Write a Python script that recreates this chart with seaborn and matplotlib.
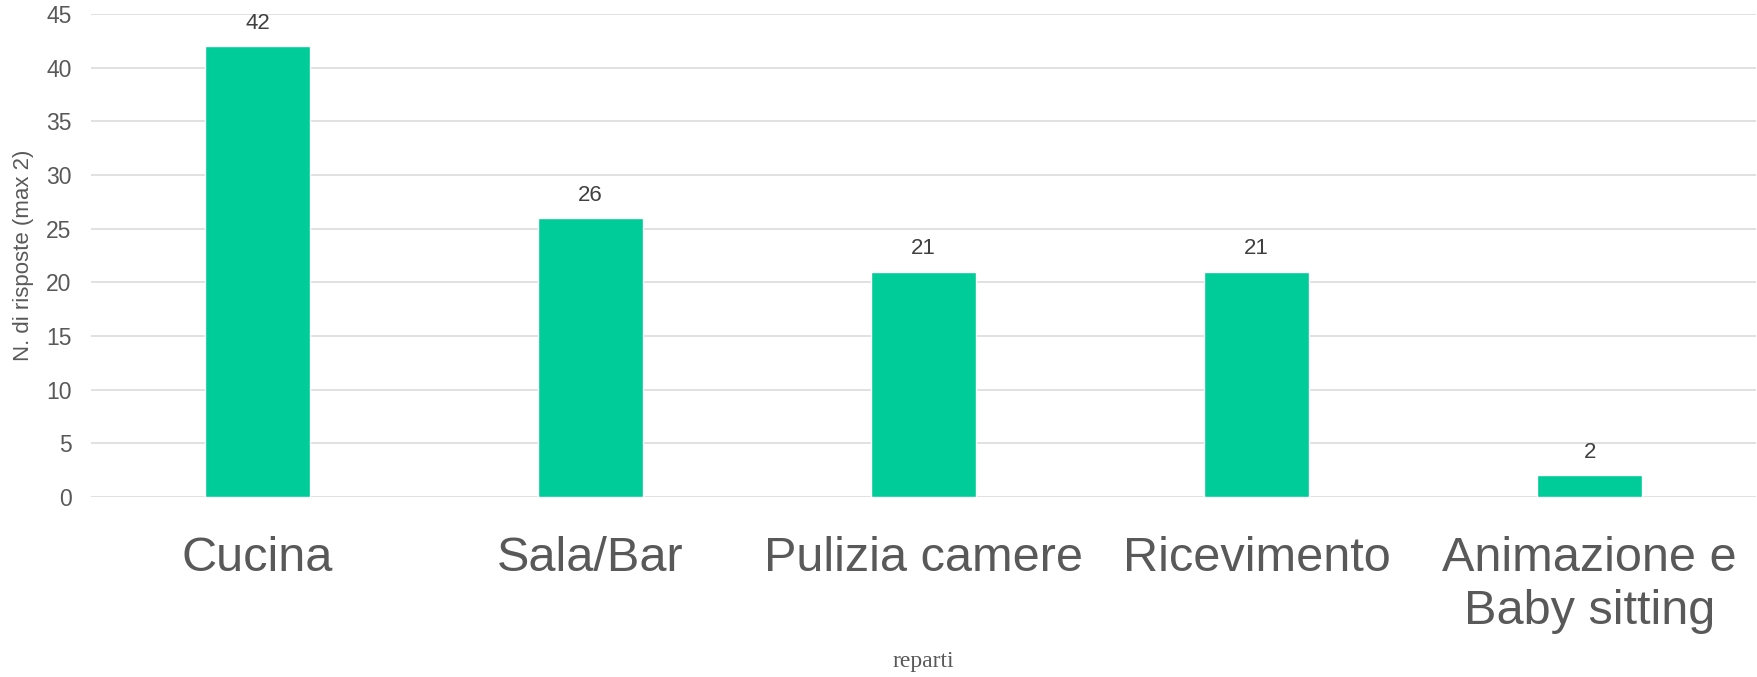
import matplotlib
matplotlib.use('Agg')
import matplotlib.pyplot as plt
import seaborn as sns

# ── Data ─────────────────────────────────────────────────────────────────────
reparti  = ['Cucina', 'Sala/Bar', 'Pulizia camere', 'Ricevimento',
            'Animazione e\nBaby sitting']
risposte = [42, 26, 21, 21, 2]
y_ticks  = [0, 5, 10, 15, 20, 25, 30, 35, 40, 45]

BAR_COLOR  = '#00CC99'
GRID_COLOR = '#D9D9D9'
TEXT_COLOR = '#595959'

# ── Style ────────────────────────────────────────────────────────────────────
sns.set_style('white')
plt.rcParams['font.family'] = ['Liberation Sans', 'DejaVu Sans']

fig = plt.figure(figsize=(17.58, 6.77), dpi=100)
ax = fig.add_axes([0.0518, 0.266, 0.9471, 0.713])

sns.barplot(x=reparti, y=risposte, color=BAR_COLOR, width=0.315,
            saturation=1, ax=ax, zorder=3)

# value labels above bars
for c in ax.containers:
    ax.bar_label(c, padding=9, fontsize=16, color='#404040')

ax.set_xlim(-0.5, len(reparti) - 0.5)
ax.set_ylim(0, 45)
ax.set_yticks(y_ticks)
ax.yaxis.grid(True, color=GRID_COLOR, linewidth=1.1, zorder=0)
ax.set_axisbelow(True)
for s in ax.spines.values():
    s.set_visible(False)

ax.tick_params(axis='y', length=0, pad=14, labelsize=16.5, labelcolor=TEXT_COLOR)
ax.tick_params(axis='x', length=0, pad=28, labelsize=35, labelcolor=TEXT_COLOR)
for lbl in ax.get_xticklabels():
    lbl.set_linespacing(1.22)

ax.set_ylabel('N. di risposte (max 2)', fontsize=16, color=TEXT_COLOR,
              labelpad=9)
ax.set_xlabel('reparti', fontsize=17, color=TEXT_COLOR,
              family='Liberation Serif')
ax.xaxis.set_label_coords(0.5, -0.32)

fig.savefig('out.png', dpi=100)
